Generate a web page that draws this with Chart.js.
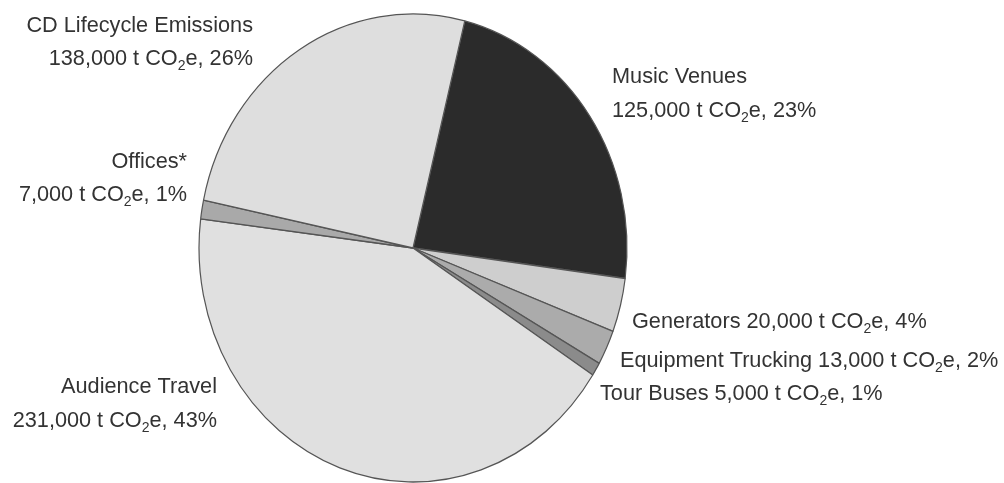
<!DOCTYPE html>
<html>
<head>
<meta charset="utf-8">
<script src="https://cdn.jsdelivr.net/npm/chart.js@4.4.1/dist/chart.umd.min.js"></script>
<style>
  html, body { margin: 0; padding: 0; background: #fff; }
  #wrap { width: 1004px; height: 483px; }
</style>
</head>
<body>
<div id="wrap"><canvas id="pie" width="1004" height="483"></canvas></div>
<script>
// sources, clockwise from the top
const sources = ["Music Venues", "Generators", "Equipment Trucking", "Tour Buses", "Audience Travel", "Offices*", "CD Lifecycle Emissions"];
const tonnes = [125000, 20000, 13000, 5000, 231000, 7000, 138000];
const percents = [23, 4, 2, 1, 43, 1, 26];
const sliceColors = ["#2b2b2b", "#cecece", "#ababab", "#8b8b8b", "#e0e0e0", "#a9a9a9", "#dedede"];

// where each label goes (one line or two)
const labelSpots = [
  { x: 612, y: [83, 117], align: "left" },
  { x: 632, y: [328], align: "left" },
  { x: 620, y: [367], align: "left" },
  { x: 600, y: [400], align: "left" },
  { x: 217, y: [393, 427], align: "right" },
  { x: 187, y: [168, 201], align: "right" },
  { x: 253, y: [32, 65], align: "right" },
];

const CX = 413, CY = 248, STRETCH = 234 / 214; // pie is a bit taller than wide

const FONT = '21.7px "Liberation Sans", Arial, sans-serif';
const SUB_FONT = '14px "Liberation Sans", Arial, sans-serif';

// draws a line of text with the 2 in CO2 as a subscript
function richWidth(ctx, text) {
  const parts = text.split("CO2");
  let w = 0;
  parts.forEach((p, i) => {
    ctx.font = FONT;
    w += ctx.measureText(p).width;
    if (i < parts.length - 1) {
      w += ctx.measureText("CO").width;
      ctx.font = SUB_FONT;
      w += ctx.measureText("2").width;
    }
  });
  return w;
}

function drawRich(ctx, text, x, y, align) {
  let cur = align === "right" ? x - richWidth(ctx, text) : x;
  const parts = text.split("CO2");
  ctx.textAlign = "left";
  ctx.textBaseline = "alphabetic";
  parts.forEach((p, i) => {
    ctx.font = FONT;
    ctx.fillText(p, cur, y);
    cur += ctx.measureText(p).width;
    if (i < parts.length - 1) {
      ctx.fillText("CO", cur, y);
      cur += ctx.measureText("CO").width;
      ctx.font = SUB_FONT;
      ctx.fillText("2", cur, y + 5);
      cur += ctx.measureText("2").width;
    }
  });
}

const stretchPie = {
  id: "stretchPie",
  beforeDatasetsDraw(chart) {
    const ctx = chart.ctx;
    ctx.save();
    ctx.translate(CX, CY);
    ctx.scale(1, STRETCH);
    ctx.translate(-CX, -CY);
  },
  afterDatasetsDraw(chart) {
    chart.ctx.restore();
  },
};

const sliceLabels = {
  id: "sliceLabels",
  afterDraw(chart) {
    const ctx = chart.ctx;
    ctx.save();
    ctx.fillStyle = "#333333";
    sources.forEach((name, i) => {
      const spot = labelSpots[i];
      const amount = tonnes[i].toLocaleString("en-US") + " t CO2e, " + percents[i] + "%";
      if (spot.y.length === 2) {
        drawRich(ctx, name, spot.x, spot.y[0], spot.align);
        drawRich(ctx, amount, spot.x, spot.y[1], spot.align);
      } else {
        drawRich(ctx, name + " " + amount, spot.x, spot.y[0], spot.align);
      }
    });
    ctx.restore();
  },
};

new Chart(document.getElementById("pie"), {
  type: "pie",
  data: {
    labels: sources,
    datasets: [
      {
        data: tonnes,
        backgroundColor: sliceColors,
        borderColor: "#555555",
        borderWidth: 1.2,
        clip: false,
      },
    ],
  },
  options: {
    responsive: false,
    animation: false,
    events: [],
    rotation: 14,
    radius: 214,
    layout: { padding: { left: 198, right: 376, top: 33, bottom: 20 } },
    plugins: {
      legend: { display: false },
      tooltip: { enabled: false },
    },
  },
  plugins: [stretchPie, sliceLabels],
});
</script>
</body>
</html>
